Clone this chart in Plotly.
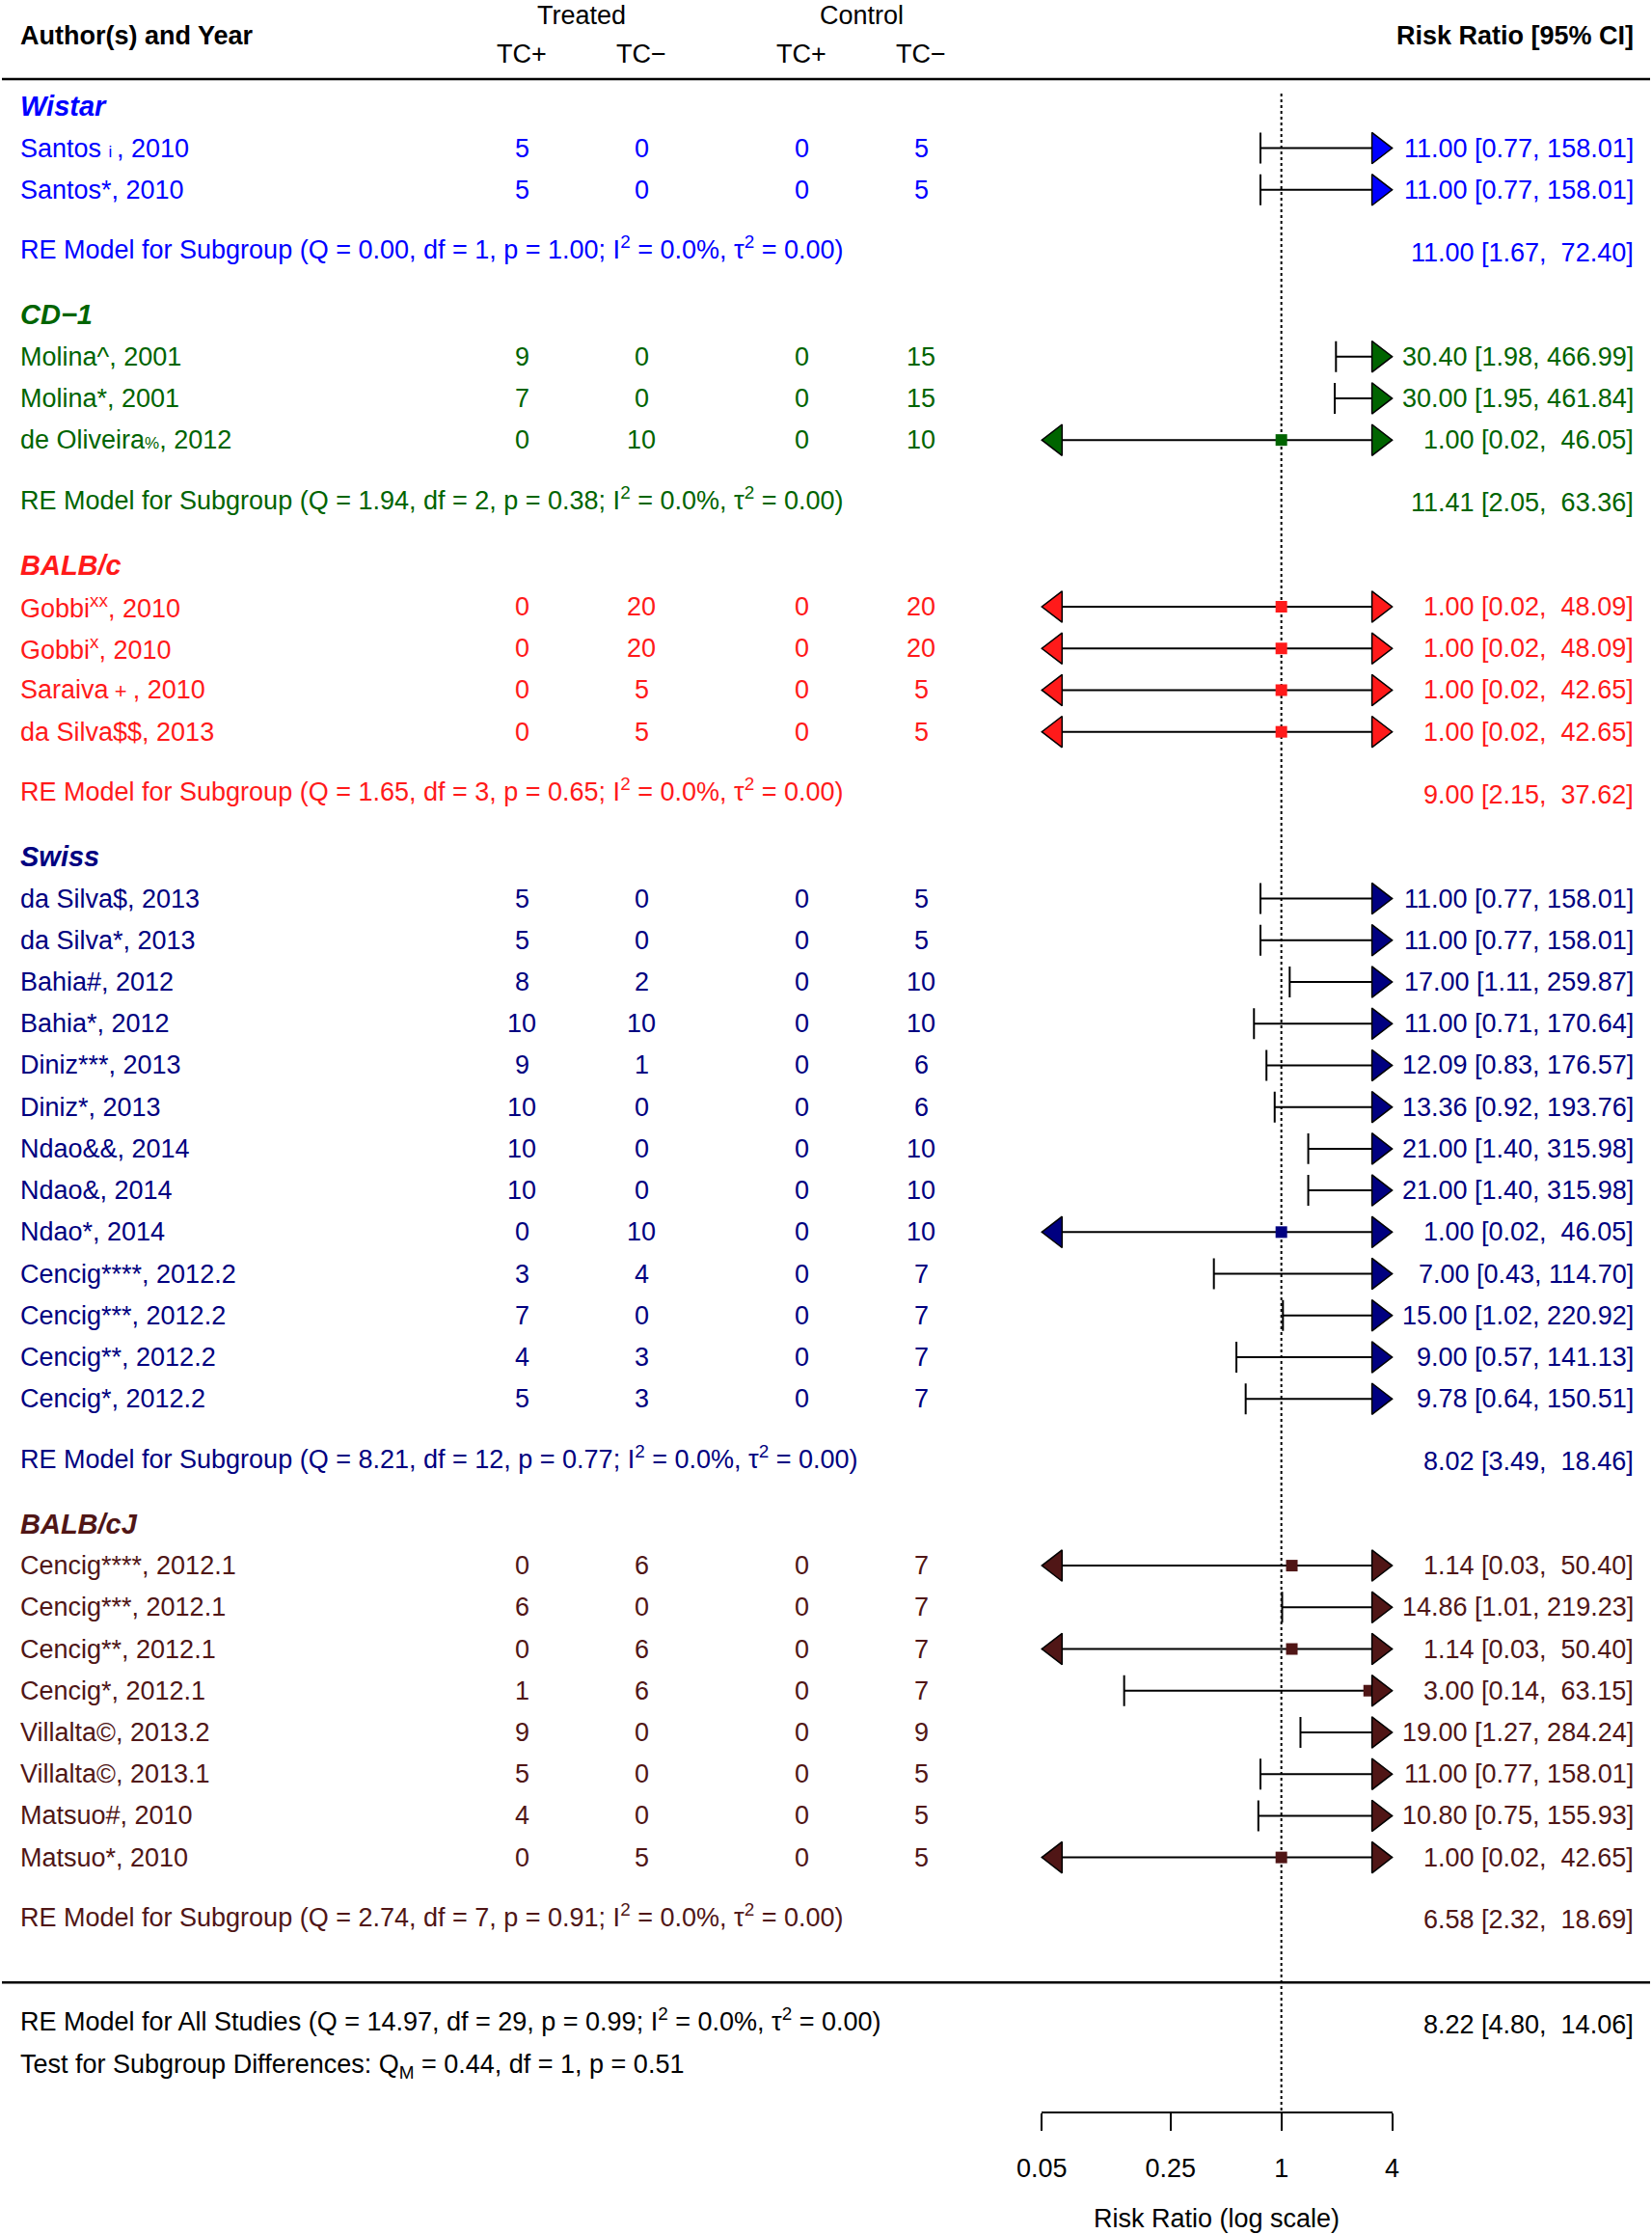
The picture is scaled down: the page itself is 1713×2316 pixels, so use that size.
import math
import plotly.graph_objects as go

# ---------------- data ----------------
group_names = ["Wistar", "CD\u22121", "BALB/c", "Swiss", "BALB/cJ"]
group_colors = ["#0000FF", "#006400", "#FF1A1A", "#000080", "#501616"]
group_sizes = [2, 3, 4, 13, 8]

study_labels = [
    "Santos\u00a0<span style='font-size:17px'>i\u00a0</span>, 2010", "Santos*, 2010",
    "Molina^, 2001", "Molina*, 2001", "de Oliveira<span style='font-size:17px'>%</span>, 2012",
    "Gobbi<sup>xx</sup>, 2010", "Gobbi<sup>x</sup>, 2010",
    "Saraiva<span style='font-size:22px'>\u00a0+\u00a0</span>, 2010", "da Silva$$, 2013",
    "da Silva$, 2013", "da Silva*, 2013", "Bahia#, 2012", "Bahia*, 2012",
    "Diniz***, 2013", "Diniz*, 2013", "Ndao&&, 2014", "Ndao&, 2014", "Ndao*, 2014",
    "Cencig****, 2012.2", "Cencig***, 2012.2", "Cencig**, 2012.2", "Cencig*, 2012.2",
    "Cencig****, 2012.1", "Cencig***, 2012.1", "Cencig**, 2012.1", "Cencig*, 2012.1",
    "Villalta\u00a9, 2013.2", "Villalta\u00a9, 2013.1", "Matsuo#, 2010", "Matsuo*, 2010",
]
treated_pos = [5, 5, 9, 7, 0, 0, 0, 0, 0, 5, 5, 8, 10, 9, 10, 10, 10, 0, 3, 7, 4, 5, 0, 6, 0, 1, 9, 5, 4, 0]
treated_neg = [0, 0, 0, 0, 10, 20, 20, 5, 5, 0, 0, 2, 10, 1, 0, 0, 0, 10, 4, 0, 3, 3, 6, 0, 6, 6, 0, 0, 0, 5]
control_pos = [0] * 30
control_neg = [5, 5, 15, 15, 10, 20, 20, 5, 5, 5, 5, 10, 10, 6, 6, 10, 10, 10, 7, 7, 7, 7, 7, 7, 7, 7, 9, 5, 5, 5]
rr = [11.00, 11.00, 30.40, 30.00, 1.00, 1.00, 1.00, 1.00, 1.00,
      11.00, 11.00, 17.00, 11.00, 12.09, 13.36, 21.00, 21.00, 1.00, 7.00, 15.00, 9.00, 9.78,
      1.14, 14.86, 1.14, 3.00, 19.00, 11.00, 10.80, 1.00]
ci_lo = [0.77, 0.77, 1.98, 1.95, 0.02, 0.02, 0.02, 0.02, 0.02,
         0.77, 0.77, 1.11, 0.71, 0.83, 0.92, 1.40, 1.40, 0.02, 0.43, 1.02, 0.57, 0.64,
         0.03, 1.01, 0.03, 0.14, 1.27, 0.77, 0.75, 0.02]
ci_hi = [158.01, 158.01, 466.99, 461.84, 46.05, 48.09, 48.09, 42.65, 42.65,
         158.01, 158.01, 259.87, 170.64, 176.57, 193.76, 315.98, 315.98, 46.05, 114.70, 220.92, 141.13, 150.51,
         50.40, 219.23, 50.40, 63.15, 284.24, 158.01, 155.93, 42.65]

group_q = ["0.00", "1.94", "1.65", "8.21", "2.74"]
group_df = [1, 2, 3, 12, 7]
group_p = ["1.00", "0.38", "0.65", "0.77", "0.91"]
group_rr = [11.00, 11.41, 9.00, 8.02, 6.58]
group_lo = [1.67, 2.05, 2.15, 3.49, 2.32]
group_hi = [72.40, 63.36, 37.62, 18.46, 18.69]

overall = dict(q="14.97", df=29, p="0.99", rr=8.22, lo=4.80, hi=14.06)
subgroup_test = dict(qm="0.44", df=1, p="0.51")

axis_ticks = [0.05, 0.25, 1, 4]
axis_tick_text = ["0.05", "0.25", "1", "4"]

# ---------------- layout constants ----------------
W, H = 1713, 2316
FONT = "Liberation Sans, Arial, Helvetica, sans-serif"
FS = 27
ROW_PX = 43.22
ROW0_PX = 153.6          # pixel of first study row
AX_LEFT_PX, AX_RIGHT_PX = 1080.3, 1443.6
AXIS_PX = 2190
LEFT_PX, RIGHT_PX = 19, 1696
XMIN, XMAX = min(axis_ticks), max(axis_ticks)
PX_PER_DECADE = (AX_RIGHT_PX - AX_LEFT_PX) / (math.log10(XMAX) - math.log10(XMIN))
TRI_SIZE = 28
TRI_OFF = (TRI_SIZE / 2) / PX_PER_DECADE  # log10 offset so that triangle tip sits on the limit
CAP_HALF = 0.37
SUP_SHIFT = 0.1  # lines with superscripts are centred a little higher


def px2row(p):
    return (p - ROW0_PX) / ROW_PX


def xp(p):
    return p / W


def ci_text(e, lo, hi):
    return f"{e:.2f} [{lo:.2f}, " + f"{hi:.2f}".rjust(6).replace(" ", "\u00a0") + "]"


# ---------------- rows ----------------
study_rows, study_group = [], []
head_rows, re_rows = [], []
r = 0.0
for gi, n in enumerate(group_sizes):
    head_rows.append(r - 1)
    for j in range(n):
        study_rows.append(r + j)
        study_group.append(gi)
    re_rows.append(r + n - 1 + 1.5)
    r = r + n - 1 + 4
line_row = re_rows[-1] + 1.5
overall_row = line_row + 1
test_row = overall_row + 1

fig = go.Figure()

# reference line at 1
fig.add_trace(go.Scatter(x=[1, 1], y=[px2row(97), px2row(AXIS_PX)], mode="lines",
                         line=dict(color="black", width=2, dash="dot"), hoverinfo="skip", showlegend=False))

# CI lines and caps
lx, ly, cx, cy = [], [], [], []
for i in range(len(rr)):
    y = study_rows[i]
    lo_c = max(ci_lo[i], XMIN)
    hi_c = min(ci_hi[i], XMAX)
    lx += [lo_c, hi_c, None]
    ly += [y, y, None]
    if ci_lo[i] >= XMIN:
        cx += [ci_lo[i], ci_lo[i], None]
        cy += [y - CAP_HALF, y + CAP_HALF, None]
    if ci_hi[i] <= XMAX:
        cx += [ci_hi[i], ci_hi[i], None]
        cy += [y - CAP_HALF, y + CAP_HALF, None]
fig.add_trace(go.Scatter(x=lx, y=ly, mode="lines", line=dict(color="black", width=2),
                         hoverinfo="skip", showlegend=False))
fig.add_trace(go.Scatter(x=cx, y=cy, mode="lines", line=dict(color="black", width=2),
                         hoverinfo="skip", showlegend=False))

# point estimates & arrows per group
for gi, col in enumerate(group_colors):
    idx = [i for i in range(len(rr)) if study_group[i] == gi]
    sq = [i for i in idx if XMIN <= rr[i] <= XMAX]
    fig.add_trace(go.Scatter(x=[rr[i] for i in sq], y=[study_rows[i] for i in sq], mode="markers",
                             marker=dict(symbol="square", size=12, color=col, line=dict(width=0)),
                             cliponaxis=False, hoverinfo="skip", showlegend=False))
    right = [i for i in idx if ci_hi[i] > XMAX]
    fig.add_trace(go.Scatter(x=[10 ** (math.log10(XMAX) - TRI_OFF)] * len(right),
                             y=[study_rows[i] for i in right], mode="markers",
                             marker=dict(symbol="triangle-right", size=TRI_SIZE, color=col,
                                         line=dict(color="black", width=1.5)),
                             cliponaxis=False, hoverinfo="skip", showlegend=False))
    left = [i for i in idx if ci_lo[i] < XMIN]
    fig.add_trace(go.Scatter(x=[10 ** (math.log10(XMIN) + TRI_OFF)] * len(left),
                             y=[study_rows[i] for i in left], mode="markers",
                             marker=dict(symbol="triangle-left", size=TRI_SIZE, color=col,
                                         line=dict(color="black", width=1.5)),
                             cliponaxis=False, hoverinfo="skip", showlegend=False))

ann = []


def add_text(txt, xpx, row, anchor="left", color="black", size=FS):
    ann.append(dict(text=txt, x=xp(xpx), xref="paper", y=row, yref="y", xanchor=anchor,
                    yanchor="middle", showarrow=False, font=dict(family=FONT, size=size, color=color)))


# header
add_text("<b>Author(s) and Year</b>", LEFT_PX, px2row(37))
add_text("<b>Risk Ratio [95% CI]</b>", RIGHT_PX, px2row(37), anchor="right")
add_text("Treated", 603, px2row(16), anchor="center")
add_text("Control", 893, px2row(16), anchor="center")
for xpx, t in zip([541, 665, 831, 955], ["TC+", "TC\u2212", "TC+", "TC\u2212"]):
    add_text(t, xpx, px2row(56), anchor="center")

num_cols = [541, 665, 831, 955]
for i in range(len(rr)):
    col = group_colors[study_group[i]]
    y = study_rows[i]
    add_text(study_labels[i], LEFT_PX, y, color=col)
    for xpx, v in zip(num_cols, [treated_pos[i], treated_neg[i], control_pos[i], control_neg[i]]):
        add_text(str(v), xpx, y, anchor="center", color=col)
    add_text(ci_text(rr[i], ci_lo[i], ci_hi[i]), RIGHT_PX, y, anchor="right", color=col)

for gi, g in enumerate(group_names):
    col = group_colors[gi]
    add_text(f"<b><i>{g}</i></b>", LEFT_PX, head_rows[gi], color=col, size=29)
    add_text(f"RE Model for Subgroup (Q = {group_q[gi]}, df = {group_df[gi]}, p = {group_p[gi]}; "
             f"I<sup>2</sup> = 0.0%, \u03c4<sup>2</sup> = 0.00)", LEFT_PX, re_rows[gi] - SUP_SHIFT, color=col)
    add_text(ci_text(group_rr[gi], group_lo[gi], group_hi[gi]), RIGHT_PX, re_rows[gi], anchor="right", color=col)

add_text(f"RE Model for All Studies (Q = {overall['q']}, df = {overall['df']}, p = {overall['p']}; "
         f"I<sup>2</sup> = 0.0%, \u03c4<sup>2</sup> = 0.00)", LEFT_PX, overall_row - SUP_SHIFT)
add_text(ci_text(overall["rr"], overall["lo"], overall["hi"]), RIGHT_PX, overall_row, anchor="right")
add_text(f"Test for Subgroup Differences: Q<sub>M</sub> = {subgroup_test['qm']}, "
         f"df = {subgroup_test['df']}, p = {subgroup_test['p']}", LEFT_PX, test_row)

ann.append(dict(text="Risk Ratio (log scale)", x=xp((AX_LEFT_PX + AX_RIGHT_PX) / 2), xref="paper",
                y=1 - 2300 / H, yref="paper", xanchor="center", yanchor="middle", showarrow=False,
                font=dict(family=FONT, size=FS, color="black")))

shapes = [
    dict(type="line", xref="paper", yref="y", x0=xp(2), x1=xp(1711), y0=px2row(82), y1=px2row(82),
         line=dict(color="black", width=2.5)),
    dict(type="line", xref="paper", yref="y", x0=xp(2), x1=xp(1711), y0=line_row, y1=line_row,
         line=dict(color="black", width=2.5)),
]

fig.update_layout(
    width=W, height=H, margin=dict(l=0, r=0, t=0, b=0, pad=0, autoexpand=False),
    paper_bgcolor="white", plot_bgcolor="rgba(0,0,0,0)",
    showlegend=False, annotations=ann, shapes=shapes,
    font=dict(family=FONT, size=FS, color="black"),
    xaxis=dict(type="log", domain=[xp(AX_LEFT_PX), xp(AX_RIGHT_PX)],
               range=[math.log10(XMIN), math.log10(XMAX)],
               anchor="free", position=1 - AXIS_PX / H, automargin=False,
               showgrid=False, zeroline=False, showline=True, linecolor="black", linewidth=2,
               ticks="outside", ticklen=18, tickwidth=2, tickcolor="black",
               tickvals=axis_ticks, ticktext=axis_tick_text, ticklabelstandoff=16,
               tickfont=dict(family=FONT, size=FS, color="black")),
    yaxis=dict(domain=[0, 1], range=[px2row(H), px2row(0)], visible=False, automargin=False,
               showgrid=False, zeroline=False),
)

fig.write_html("out.html", config={"displayModeBar": False},
               post_script="document.body.style.margin='0';document.body.style.overflow='hidden';")
